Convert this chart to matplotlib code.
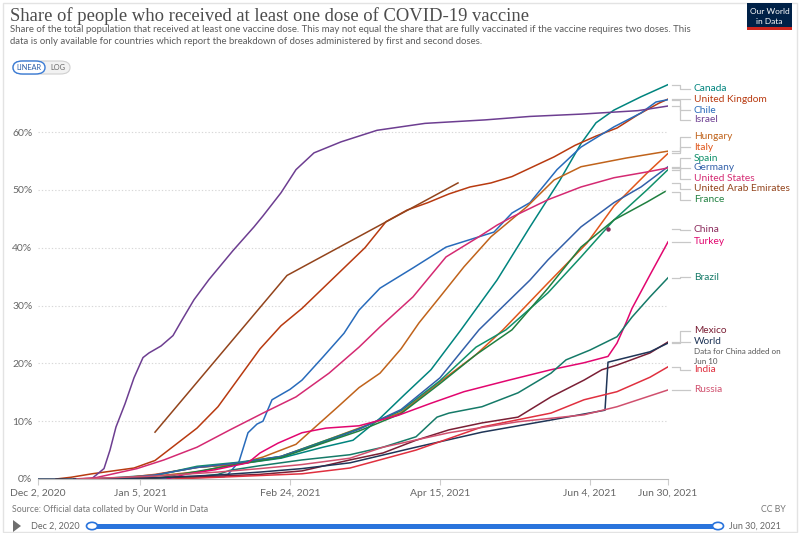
import matplotlib.pyplot as plt
import matplotlib.dates as mdates
import numpy as np
from matplotlib.patches import Rectangle, FancyBboxPatch, Polygon, Circle
from matplotlib.lines import Line2D

# ---- data (share of population with at least one dose, %) ----
israel_dates = ['2020-12-19', '2020-12-20', '2020-12-24', '2020-12-26', '2020-12-28', '2020-12-31',
                '2021-01-03', '2021-01-06', '2021-01-08', '2021-01-12', '2021-01-16', '2021-01-19',
                '2021-01-23', '2021-01-28', '2021-02-01', '2021-02-05', '2021-02-12', '2021-02-15',
                '2021-02-21', '2021-02-26', '2021-03-04', '2021-03-13', '2021-03-25', '2021-04-10',
                '2021-04-30', '2021-05-15', '2021-06-01', '2021-06-20', '2021-06-30']
israel = [0, 0.1, 1.8, 5, 9, 13, 17.5, 21, 21.8, 23, 24.8, 27.5, 31, 34.5, 37, 39.5, 43.6,
          45.5, 49.5, 53.5, 56.4, 58.3, 60.3, 61.5, 62.1, 62.7, 63.1, 63.7, 64.5]

uk_dates = ['2020-12-08', '2020-12-13', '2020-12-20', '2020-12-27', '2021-01-03', '2021-01-10',
            '2021-01-17', '2021-01-24', '2021-01-31', '2021-02-07', '2021-02-14', '2021-02-21',
            '2021-02-28', '2021-03-07', '2021-03-14', '2021-03-21', '2021-03-28', '2021-04-04',
            '2021-04-11', '2021-04-18', '2021-04-25', '2021-05-02', '2021-05-09', '2021-05-16',
            '2021-05-23', '2021-05-30', '2021-06-06', '2021-06-13', '2021-06-20', '2021-06-27',
            '2021-06-30']
uk = [0, 0.3, 0.9, 1.4, 1.9, 3.2, 6, 8.8, 12.5, 17.5, 22.5, 26.5, 29.5, 33, 36.5, 40, 44.5, 46.5,
      47.8, 49.3, 50.5, 51.2, 52.3, 54, 55.7, 57.7, 59.3, 60.7, 63, 65, 65.7]

canada_dates = ['2020-12-14', '2020-12-27', '2021-01-10', '2021-01-24', '2021-02-07', '2021-02-21',
                '2021-03-07', '2021-03-17', '2021-03-26', '2021-04-03', '2021-04-12', '2021-04-22',
                '2021-05-04', '2021-05-15', '2021-05-25', '2021-06-01', '2021-06-06', '2021-06-12',
                '2021-06-21', '2021-06-30']
canada = [0, 0.2, 0.7, 2, 2.6, 3.6, 5.5, 6.7, 10.5, 14.5, 18.9, 25.8, 34.4, 43.6, 51.7, 58, 61.6,
          63.8, 66.1, 68.2]

chile_dates = ['2020-12-24', '2021-01-01', '2021-01-20', '2021-02-02', '2021-02-03', '2021-02-07',
               '2021-02-10', '2021-02-13', '2021-02-15', '2021-02-18', '2021-02-24', '2021-02-28',
               '2021-03-07', '2021-03-14', '2021-03-19', '2021-03-26', '2021-04-06', '2021-04-17',
               '2021-05-03', '2021-05-09', '2021-05-15', '2021-05-24', '2021-06-01', '2021-06-12',
               '2021-06-21', '2021-06-26', '2021-06-30']
chile = [0, 0.05, 0.2, 0.4, 0.6, 3, 8, 9.5, 10, 13.7, 15.5, 17.1, 21.1, 25.2, 29.2, 33, 36.5, 40.1,
         42.7, 46, 47.8, 53.5, 57.4, 60.9, 63.3, 65.2, 65.6]

hungary_dates = ['2020-12-26', '2021-01-10', '2021-01-25', '2021-02-08', '2021-02-15', '2021-02-20',
                 '2021-02-26', '2021-03-04', '2021-03-12', '2021-03-19', '2021-03-26', '2021-04-02',
                 '2021-04-08', '2021-04-15', '2021-04-23', '2021-05-02', '2021-05-14', '2021-05-23',
                 '2021-06-01', '2021-06-16', '2021-06-30']
hungary = [0, 0.5, 1.3, 2.8, 3.8, 4.8, 6, 8.8, 12.5, 15.8, 18.3, 22.5, 27, 31.5, 36.7, 41.9, 47.1,
           51.7, 54, 55.5, 56.7]

italy_dates = ['2020-12-27', '2021-01-10', '2021-01-24', '2021-02-07', '2021-02-21', '2021-03-07',
               '2021-03-19', '2021-04-02', '2021-04-15', '2021-04-27', '2021-05-06', '2021-05-21',
               '2021-06-03', '2021-06-12', '2021-06-23', '2021-06-30']
italy = [0, 0.8, 2, 2.6, 3.9, 6.5, 8.8, 11.5, 16.8, 21.5, 25.8, 33.9, 40.8, 47.2, 52.9, 56.3]

spain_dates = ['2020-12-27', '2021-01-10', '2021-01-24', '2021-02-07', '2021-02-21', '2021-03-07',
               '2021-03-19', '2021-04-02', '2021-04-15', '2021-04-27', '2021-05-07', '2021-05-21',
               '2021-06-01', '2021-06-12', '2021-06-23', '2021-06-30']
spain = [0, 0.6, 2.2, 2.9, 3.9, 6.5, 8.7, 11.8, 17, 22.8, 25.8, 32.2, 38.4, 44.8, 50, 53.5]

germany_dates = ['2020-12-27', '2021-01-10', '2021-01-24', '2021-02-07', '2021-02-21', '2021-03-07',
                 '2021-03-19', '2021-04-02', '2021-04-15', '2021-04-28', '2021-05-15', '2021-05-21',
                 '2021-06-01', '2021-06-12', '2021-06-21', '2021-06-30']
germany = [0, 0.7, 2, 2.8, 3.9, 6.3, 8.6, 12, 17.5, 25.8, 34.4, 37.9, 43.6, 47.8, 50.5, 54]

france_dates = ['2020-12-27', '2021-01-10', '2021-01-24', '2021-02-07', '2021-02-21', '2021-03-07',
                '2021-03-19', '2021-04-02', '2021-04-15', '2021-04-27', '2021-05-09', '2021-05-21',
                '2021-06-01', '2021-06-12', '2021-06-23', '2021-06-29']
france = [0, 0.1, 1.3, 2.6, 3.7, 6.2, 8.3, 11.3, 16.5, 21.5, 25.8, 33, 40.1, 44.8, 47.9, 49.7]

us_dates = ['2020-12-14', '2020-12-21', '2020-12-28', '2021-01-04', '2021-01-13', '2021-01-24',
            '2021-02-04', '2021-02-15', '2021-02-26', '2021-03-09', '2021-03-19', '2021-03-26',
            '2021-04-06', '2021-04-17', '2021-04-28', '2021-05-04', '2021-05-09', '2021-05-21',
            '2021-06-01', '2021-06-12', '2021-06-23', '2021-06-30']
us = [0, 0.2, 1, 1.8, 3.3, 5.5, 8.5, 11.4, 14.2, 18.3, 22.8, 26.3, 31.5, 38.4, 41.9, 43.9, 45.3,
      48.3, 50.5, 52.1, 53.1, 53.8]

uae_dates = ['2021-01-10', '2021-02-23', '2021-04-21']
uae = [8.1, 35.2, 51.2]

china_dates = ['2021-06-10']
china = [43.2]

turkey_dates = ['2021-01-14', '2021-01-20', '2021-01-30', '2021-02-10', '2021-02-14', '2021-02-20',
                '2021-02-28', '2021-03-08', '2021-03-19', '2021-04-01', '2021-04-12', '2021-04-23',
                '2021-05-08', '2021-05-22', '2021-06-02', '2021-06-10', '2021-06-13', '2021-06-16',
                '2021-06-18', '2021-06-24', '2021-06-30']
turkey = [0, 0.8, 1.6, 2.8, 4.5, 6.2, 8, 8.8, 9.2, 11, 13.1, 15.1, 17.1, 18.9, 20.1, 21.2, 23.5,
          27, 29.5, 35.3, 41]

brazil_dates = ['2021-01-17', '2021-01-31', '2021-02-04', '2021-02-14', '2021-02-28', '2021-03-16',
                '2021-03-27', '2021-04-07', '2021-04-14', '2021-04-18', '2021-04-29', '2021-05-11',
                '2021-05-22', '2021-05-27', '2021-06-04', '2021-06-13', '2021-06-18', '2021-06-24',
                '2021-06-30']
brazil = [0, 0.8, 1.5, 2.3, 3.3, 4.2, 5.5, 7.3, 10.7, 11.4, 12.5, 14.9, 18.3, 20.6, 22.3, 24.6, 28,
          31.5, 34.8]

mexico_dates = ['2020-12-24', '2021-01-10', '2021-01-31', '2021-02-14', '2021-02-28', '2021-03-16',
                '2021-03-27', '2021-04-07', '2021-04-18', '2021-04-29', '2021-05-11', '2021-05-22',
                '2021-06-02', '2021-06-08', '2021-06-13', '2021-06-24', '2021-06-30']
mexico = [0, 0.2, 0.5, 0.8, 1.4, 3.3, 4.5, 6.7, 8.5, 9.7, 10.7, 14.2, 17.1, 18.9, 19.7, 21.8, 23.7]

world_dates = ['2020-12-02', '2020-12-13', '2020-12-27', '2021-01-10', '2021-01-31', '2021-02-14',
               '2021-02-28', '2021-03-16', '2021-04-07', '2021-04-29', '2021-05-22', '2021-06-09',
               '2021-06-10', '2021-06-24', '2021-06-30']
world = [0, 0, 0.05, 0.2, 0.7, 1.2, 1.8, 2.8, 5.5, 8.1, 10.2, 11.9, 20.2, 22, 23.5]

india_dates = ['2021-01-16', '2021-01-31', '2021-02-14', '2021-02-28', '2021-03-16', '2021-04-07',
               '2021-04-29', '2021-05-22', '2021-06-02', '2021-06-13', '2021-06-24', '2021-06-30']
india = [0, 0.3, 0.6, 0.9, 1.9, 5, 9, 11.4, 13.7, 15.1, 17.6, 19.4]

russia_dates = ['2020-12-15', '2021-01-10', '2021-01-31', '2021-02-14', '2021-02-28', '2021-03-16',
                '2021-03-27', '2021-04-18', '2021-05-11', '2021-06-02', '2021-06-13', '2021-06-30']
russia = [0, 0.5, 1.2, 1.8, 2.5, 3.6, 5.5, 8, 9.9, 11.1, 12.5, 15.4]

# name, dates, values, colour, label y (% units, where the label sits on the right)
series = [
    ('Canada', canada_dates, canada, '#00847e', 67.5),
    ('United Kingdom', uk_dates, uk, '#b83a10', 65.7),
    ('Chile', chile_dates, chile, '#286bbb', 63.8),
    ('Israel', israel_dates, israel, '#6d3e91', 62.1),
    ('Hungary', hungary_dates, hungary, '#c0631b', 59.2),
    ('Italy', italy_dates, italy, '#e0561a', 57.4),
    ('Spain', spain_dates, spain, '#10906a', 55.5),
    ('Germany', germany_dates, germany, '#3360a9', 53.8),
    ('United States', us_dates, us, '#d42a72', 51.9),
    ('United Arab Emirates', uae_dates, uae, '#93441c', 50.2),
    ('France', france_dates, france, '#208040', 48.3),
    ('China', china_dates, china, '#8b2a5c', 43.1),
    ('Turkey', turkey_dates, turkey, '#e2066f', 41.0),
    ('Brazil', brazil_dates, brazil, '#157a68', 34.9),
    ('Mexico', mexico_dates, mexico, '#7a1f35', 25.6),
    ('World', world_dates, world, '#1f3557', 23.7),
    ('India', india_dates, india, '#e0303f', 18.9),
    ('Russia', russia_dates, russia, '#d0506e', 15.4),
]

W, H = 800, 533
FONT = ['Lato', 'DejaVu Sans']


def fx(x):
    return x / W


def fy(y):
    return 1 - y / H


fig = plt.figure(figsize=(8, 5.33), dpi=100)
fig.patch.set_facecolor('white')

# frame of the embed
fig.add_artist(Rectangle((fx(3), fy(532)), fx(794), 529 / H, transform=fig.transFigure,
                         fill=False, edgecolor='#e3e3e3', lw=1))

# title and subtitle
fig.text(fx(10), fy(16), 'Share of people who received at least one dose of COVID-19 vaccine',
         family=['Liberation Serif', 'DejaVu Serif'], fontsize=13.4, color='#4d4d4d', va='center')
fig.text(fx(10), fy(30), 'Share of the total population that received at least one vaccine dose. '
         'This may not equal the share that are fully vaccinated if the vaccine requires two doses. This',
         family=FONT, fontsize=6.95, color='#5b5b5b', va='center')
fig.text(fx(10), fy(42), 'data is only available for countries which report the breakdown of doses '
         'administered by first and second doses.',
         family=FONT, fontsize=6.95, color='#5b5b5b', va='center')

# LINEAR / LOG toggle
fig.add_artist(FancyBboxPatch((fx(13), fy(74)), fx(57), 13 / H, transform=fig.transFigure,
                              boxstyle='round,pad=0,rounding_size=0.012', fc='#f2f2f2', ec='#d0d0d0', lw=0.8))
fig.add_artist(FancyBboxPatch((fx(13), fy(74)), fx(32), 13 / H, transform=fig.transFigure,
                              boxstyle='round,pad=0,rounding_size=0.012', fc='white', ec='#3a7bd5', lw=1))
fig.text(fx(29), fy(67.5), 'LINEAR', family=FONT, fontsize=5.3, color='#2d5fa8', ha='center', va='center')
fig.text(fx(58), fy(67.5), 'LOG', family=FONT, fontsize=5.3, color='#666666', ha='center', va='center')

# logo
fig.add_artist(Rectangle((fx(747), fy(28)), fx(45), 25 / H, transform=fig.transFigure,
                         fc='#002147', ec='none'))
fig.add_artist(Rectangle((fx(747), fy(30)), fx(45), 2.5 / H, transform=fig.transFigure,
                         fc='#ce261e', ec='none'))
fig.text(fx(769.5), fy(11), 'Our World', family=FONT, fontsize=6, color='white', ha='center', va='center')
fig.text(fx(769.5), fy(21), 'in Data', family=FONT, fontsize=6, color='white', ha='center', va='center')

# plot area
ax = fig.add_axes([fx(38), 1 - 479 / H, (668 - 38) / W, (479 - 80) / H])
x0 = mdates.date2num(np.datetime64('2020-12-02'))
x1 = mdates.date2num(np.datetime64('2021-06-30'))
ax.set_xlim(x0, x1)
ax.set_ylim(0, 69)
for s in ['top', 'right', 'left']:
    ax.spines[s].set_visible(False)
ax.spines['bottom'].set_color('#bbbbbb')
ax.spines['bottom'].set_linewidth(0.8)

yt = [0, 10, 20, 30, 40, 50, 60]
ax.set_yticks(yt)
ax.set_yticklabels([f'{v}%' for v in yt], family=FONT, fontsize=7.5, color='#666666')
ax.tick_params(axis='y', length=0, pad=4)
for v in yt[1:]:
    ax.axhline(v, color='#d8d8d8', lw=0.8, ls=(0, (1.2, 1.8)), zorder=0)

xt = ['2020-12-02', '2021-01-05', '2021-02-24', '2021-04-15', '2021-06-04', '2021-06-30']
xt_labels = ['Dec 2, 2020', 'Jan 5, 2021', 'Feb 24, 2021', 'Apr 15, 2021', 'Jun 4, 2021', 'Jun 30, 2021']
ax.set_xticks([mdates.date2num(np.datetime64(d)) for d in xt])
ax.set_xticklabels(xt_labels, family=FONT, fontsize=7.5, color='#666666')
ax.tick_params(axis='x', length=4, color='#cccccc', pad=3)

for name, dates, vals, col, ly in series:
    xs = np.array(dates, dtype='datetime64[D]')
    if len(vals) == 1:
        ax.plot(xs, vals, 'o', color=col, ms=2.2, zorder=3)
    else:
        ax.plot(xs, vals, color=col, lw=1.1, zorder=2, solid_joinstyle='round')

    # connector and label on the right
    e = vals[-1]
    cx = [x1 + 1.3, x1 + 4, x1 + 4, x1 + 7.3]
    cy = [e, e, ly, ly]
    ax.add_line(Line2D(cx, cy, color='#c8c8c8', lw=0.9, clip_on=False))
    ax.text(x1 + 8.6, ly, name, family=FONT, fontsize=7.3, color=col, va='center', ha='left',
            clip_on=False)

ax.text(x1 + 8.6, 22.1, 'Data for China added on', family=FONT, fontsize=5.8, color='#555555',
        va='center', clip_on=False)
ax.text(x1 + 8.6, 20.4, 'Jun 10', family=FONT, fontsize=5.8, color='#555555', va='center', clip_on=False)

# footer
fig.text(fx(12), fy(509), 'Source: Official data collated by Our World in Data', family=FONT,
         fontsize=6.3, color='#777777', va='center')
fig.text(fx(786), fy(509), 'CC BY', family=FONT, fontsize=6.3, color='#777777', va='center', ha='right')

# timeline slider
fig.add_artist(Polygon([[fx(13), fy(520)], [fx(13), fy(532)], [fx(21), fy(526)]],
                       closed=True, transform=fig.transFigure, fc='#6e6e6e', ec='none'))
fig.text(fx(31), fy(526), 'Dec 2, 2020', family=FONT, fontsize=6.5, color='#666666', va='center')
fig.add_artist(Rectangle((fx(92), fy(528.5)), fx(626), 5 / H, transform=fig.transFigure,
                         fc='#2a74dc', ec='none'))
for px in [92, 718]:
    fig.add_artist(Circle((fx(px), fy(526)), 5.5 / W, transform=fig.transFigure,
                          fc='white', ec='#2a74dc', lw=1.2))
fig.text(fx(729), fy(526), 'Jun 30, 2021', family=FONT, fontsize=6.5, color='#666666', va='center')

fig.savefig('out.png', dpi=100)
